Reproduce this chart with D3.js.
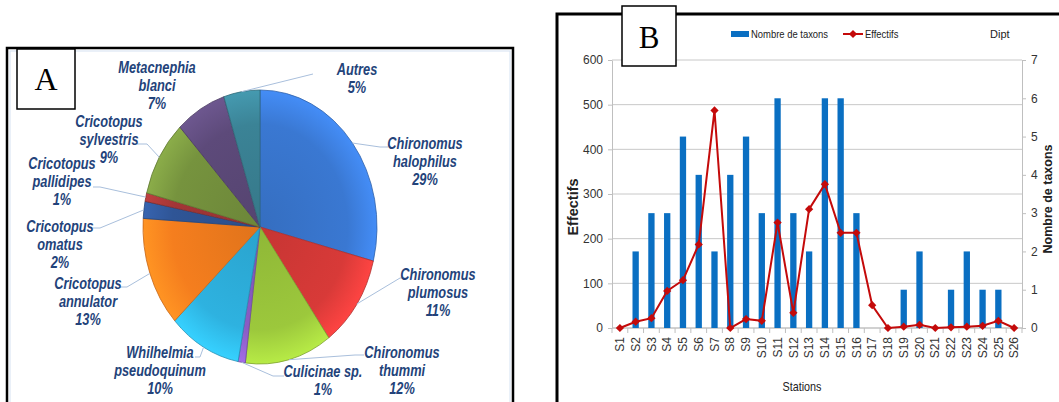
<!DOCTYPE html>
<html>
<head>
<meta charset="utf-8">
<script src="https://cdn.jsdelivr.net/npm/d3@7"></script>
<style>
  body { margin: 0; background: #fff; }
  svg { display: block; }
</style>
</head>
<body>
<svg width="1059" height="402"></svg>
<script>
// ---- data, panel A (Diptera composition) ----
const taxa = ["Chironomus halophilus", "Chironomus plumosus", "Chironomus thummi", "Culicinae sp.",
  "Whilhelmia pseudoquinum", "Cricotopus annulator", "Cricotopus omatus", "Cricotopus pallidipes",
  "Cricotopus sylvestris", "Metacnephia blanci", "Autres"];
const shares = [29, 11, 12, 1, 10, 13, 2, 1, 9, 7, 5];
const sliceColors = ["#3a78d2", "#d83a38", "#9cc83c", "#8a5cc4", "#2eb2e0", "#f57e1e",
  "#2f5596", "#a33636", "#76933e", "#5d4a7a", "#3b8396"];

// ---- data, panel B (stations) ----
const stations = ["S1", "S2", "S3", "S4", "S5", "S6", "S7", "S8", "S9", "S10", "S11", "S12", "S13",
  "S14", "S15", "S16", "S17", "S18", "S19", "S20", "S21", "S22", "S23", "S24", "S25", "S26"];
const nbTaxons = [0, 2, 3, 3, 5, 4, 2, 4, 5, 3, 6, 3, 2, 6, 6, 3, 0, 0, 1, 2, 0, 1, 2, 1, 1, 0];
const effectifs = [0, 14, 22, 83, 107, 187, 487, 0, 20, 16, 236, 34, 266, 322, 213, 213, 51,
  0, 3, 7, 0, 1.5, 3, 5, 16, 0];
const effTicks = [0, 100, 200, 300, 400, 500, 600];
const taxTicks = [0, 1, 2, 3, 4, 5, 6, 7];

const svg = d3.select("svg");
const sans = "'Liberation Sans', Arial, sans-serif";
const serif = "'Liberation Serif', 'Times New Roman', serif";
const defs = svg.append("defs");

// text helper: narrow look is done with a horizontal squeeze
function label(parent, x, y, str, o = {}) {
  return parent.append("text")
    .attr("transform", `translate(${x},${y}) rotate(${o.rot || 0}) scale(${o.sx || 1},1)`)
    .attr("text-anchor", o.anchor || "start").attr("dy", "0.35em")
    .attr("font-family", sans).attr("font-size", o.size || 12)
    .attr("font-weight", o.weight || "normal").attr("fill", o.fill || "#222")
    .text(str);
}

// =================== Panel A ===================
svg.append("rect").attr("x", 7).attr("y", 48).attr("width", 506).attr("height", 400)
  .attr("fill", "#fff").attr("stroke", "#000").attr("stroke-width", 2.5);
svg.append("rect").attr("x", 10).attr("y", 51).attr("width", 500).attr("height", 400)
  .attr("fill", "none").attr("stroke", "#d5e2f2").attr("stroke-width", 1);

const cx = 260, cy = 227, rx = 117, ry = 137;
const pieData = d3.pie().sort(null).value(d => d)(shares);
const arc = d3.arc().innerRadius(0).outerRadius(ry);

sliceColors.forEach((c, i) => {
  const g = defs.append("radialGradient").attr("id", "sl" + i)
    .attr("gradientUnits", "userSpaceOnUse").attr("cx", 0).attr("cy", 0).attr("r", ry);
  g.append("stop").attr("offset", "0%").attr("stop-color", d3.color(c).darker(0.25));
  g.append("stop").attr("offset", "75%").attr("stop-color", c);
  g.append("stop").attr("offset", "100%").attr("stop-color", d3.color(c).brighter(0.45));
});

const pieG = svg.append("g").attr("transform", `translate(${cx},${cy}) scale(${rx / ry},1)`);
pieG.selectAll("path.slice")
  .data(pieData)
  .join("path")
  .attr("class", "slice")
  .attr("d", arc)
  .attr("fill", (d, i) => `url(#sl${i})`)
  .attr("stroke", (d, i) => d3.color(sliceColors[i]).darker(0.6))
  .attr("stroke-width", 0.8)
  .attr("vector-effect", "non-scaling-stroke");

// label layout (centre x, first line y, leader elbow/end or null)
const labelPos = [
  { x: 425, y: 143, lead: [[380, 147], [388, 147]] },
  { x: 438, y: 274, lead: [[400, 278], [407, 278]] },
  { x: 402, y: 352, lead: [[355, 355], [364, 355]] },
  { x: 323, y: 371, lead: [[273, 376], [284, 376]] },
  { x: 160, y: 352, lead: [[200, 357], [195, 357]] },
  { x: 88, y: 283, lead: [[127, 287], [120, 287]] },
  { x: 60, y: 226, lead: [[100, 228], [93, 228]] },
  { x: 62, y: 163, lead: [[100, 187], [93, 187]] },
  { x: 109, y: 121, lead: [[147, 144], [137, 144]] },
  { x: 157, y: 67, lead: null },
  { x: 357, y: 69, lead: [[313, 74], [313, 74]] }
];

pieData.forEach((d, i) => {
  const p = labelPos[i];
  if (p.lead) {
    const a = (d.startAngle + d.endAngle) / 2;
    const start = [cx + rx * Math.sin(a), cy - ry * Math.cos(a)];
    svg.append("path")
      .attr("d", d3.line()([start, ...p.lead]))
      .attr("fill", "none").attr("stroke", "#a9bfdc").attr("stroke-width", 1);
  }
  const name = taxa[i];
  const lines = /\.$/.test(name) || !name.includes(" ") ? [name] : name.split(" ");
  lines.push(shares[i] + "%");
  lines.forEach((s, k) => {
    label(svg, p.x, p.y + k * 18, s, { anchor: "middle", size: 16, weight: "bold", sx: 0.8, fill: "#23437a" })
      .attr("font-style", "italic");
  });
});

svg.append("rect").attr("x", 17).attr("y", 49).attr("width", 58).attr("height", 60)
  .attr("fill", "#fff").attr("stroke", "#000").attr("stroke-width", 1.5);
svg.append("text").attr("x", 46).attr("y", 79).attr("dy", "0.35em").attr("text-anchor", "middle")
  .attr("font-family", serif).attr("font-size", 32).text("A");

// =================== Panel B ===================
svg.append("rect").attr("x", 557).attr("y", 14).attr("width", 520).attr("height", 420)
  .attr("fill", "#fff").attr("stroke", "#000").attr("stroke-width", 3);

const x = d3.scaleBand().domain(stations).range([612, 1022]);
const yL = d3.scaleLinear().domain([0, 600]).range([328, 60]);
const yR = d3.scaleLinear().domain([0, 7]).range([328, 60]);
const grey = "#bfbfbf";

// gridlines
svg.append("g").selectAll("line")
  .data(effTicks)
  .join("line")
  .attr("x1", 612).attr("x2", 1022)
  .attr("y1", d => yL(d)).attr("y2", d => yL(d))
  .attr("stroke", "#c8c8c8").attr("stroke-width", 1);

const styleAxis = g => {
  g.select(".domain").attr("stroke", grey);
  g.selectAll(".tick line").attr("stroke", grey);
  g.selectAll(".tick text").attr("font-family", sans).attr("font-size", 12).attr("fill", "#333");
};

svg.append("g").attr("transform", "translate(612,0)")
  .call(d3.axisLeft(yL).tickValues(effTicks).tickFormat(d3.format("d"))
    .tickSize(4).tickSizeOuter(0).tickPadding(5))
  .call(styleAxis);

svg.append("g").attr("transform", "translate(1022,0)")
  .call(d3.axisRight(yR).tickValues(taxTicks).tickFormat(d3.format("d"))
    .tickSize(4).tickSizeOuter(0).tickPadding(5))
  .call(styleAxis);

// x axis: ticks between categories, rotated labels
const xAxis = svg.append("g").attr("transform", "translate(0,328)");
xAxis.append("line").attr("x1", 612).attr("x2", 1022).attr("stroke", grey);
xAxis.selectAll("line.tk")
  .data(d3.range(stations.length + 1))
  .join("line").attr("class", "tk")
  .attr("x1", i => 612 + i * x.step()).attr("x2", i => 612 + i * x.step())
  .attr("y1", 0).attr("y2", 5).attr("stroke", grey);
stations.forEach(s => {
  label(xAxis, x(s) + x.bandwidth() / 2, 9, s, { rot: -90, anchor: "end", size: 12, fill: "#333" });
});

// bars (right axis)
const barW = x.bandwidth() * 0.4;
svg.append("g").selectAll("rect")
  .data(stations)
  .join("rect")
  .attr("x", d => x(d) + (x.bandwidth() - barW) / 2)
  .attr("y", (d, i) => yR(nbTaxons[i]))
  .attr("width", barW)
  .attr("height", (d, i) => yR(0) - yR(nbTaxons[i]))
  .attr("fill", "#0a6fc2");

// line (left axis)
const red = "#c40a0a";
const pts = stations.map((s, i) => [x(s) + x.bandwidth() / 2, yL(effectifs[i])]);
svg.append("path").attr("d", d3.line()(pts))
  .attr("fill", "none").attr("stroke", red).attr("stroke-width", 2);
const diamond = d3.symbol(d3.symbolSquare, 34);
svg.append("g").selectAll("path")
  .data(pts)
  .join("path")
  .attr("transform", d => `translate(${d[0]},${d[1]}) rotate(45)`)
  .attr("d", diamond)
  .attr("fill", red);

// axis titles
label(svg, 573, 207, "Effectifs", { rot: -90, anchor: "middle", size: 14.5, weight: "bold" });
label(svg, 1048, 199, "Nombre de taxons", { rot: -90, anchor: "middle", size: 12.5, weight: "bold" });
label(svg, 802, 387, "Stations", { anchor: "middle", size: 12, sx: 0.9 });

// legend
const lg = svg.append("g");
lg.append("rect").attr("x", 731).attr("y", 31).attr("width", 18).attr("height", 6).attr("fill", "#0a6fc2");
label(lg, 751, 34, "Nombre de taxons", { size: 10.5, sx: 0.9 });
lg.append("line").attr("x1", 843).attr("x2", 863).attr("y1", 34).attr("y2", 34)
  .attr("stroke", red).attr("stroke-width", 2);
lg.append("path").attr("transform", "translate(853,34) rotate(45)").attr("d", diamond).attr("fill", red);
label(lg, 865, 34, "Effectifs", { size: 10.5, sx: 0.9 });
label(lg, 990, 34, "Dipt", { size: 11 });

svg.append("rect").attr("x", 622).attr("y", 6).attr("width", 54).attr("height", 60)
  .attr("fill", "#fff").attr("stroke", "#000").attr("stroke-width", 1.5);
svg.append("text").attr("x", 649).attr("y", 37).attr("dy", "0.35em").attr("text-anchor", "middle")
  .attr("font-family", serif).attr("font-size", 31).text("B");
</script>
</body>
</html>
